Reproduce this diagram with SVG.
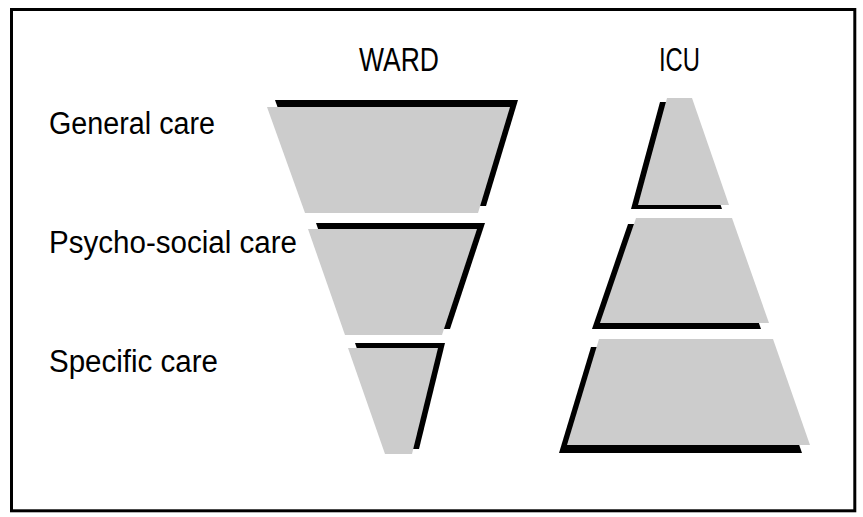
<svg xmlns="http://www.w3.org/2000/svg" width="863" height="517" viewBox="0 0 863 517">
<style>
.lbl{font-family:"Liberation Sans",Arial,sans-serif;font-size:31px;fill:#000}
.ttl{font-family:"Liberation Sans",Arial,sans-serif;font-size:33px;fill:#000}
.sh{fill:#000}
.fc{fill:#cccccc}
</style>
<rect x="0" y="0" width="863" height="517" fill="#fff"/>
<rect x="11.5" y="9.5" width="843.3" height="501.3" fill="none" stroke="#000" stroke-width="3"/>
<text class="ttl" x="359" y="71" textLength="80" lengthAdjust="spacingAndGlyphs">WARD</text>
<text class="ttl" x="659" y="71" textLength="41" lengthAdjust="spacingAndGlyphs">ICU</text>
<text class="lbl" x="49" y="134" textLength="166" lengthAdjust="spacingAndGlyphs">General care</text>
<text class="lbl" x="49" y="253" textLength="248" lengthAdjust="spacingAndGlyphs">Psycho-social care</text>
<text class="lbl" x="49" y="372" textLength="169" lengthAdjust="spacingAndGlyphs">Specific care</text>
<g id="ward-general">
<polygon class="sh" transform="translate(8,-7)" points="267,107 510,107 478,213 305,213"/>
<polygon class="fc" points="267,107 510,107 478,213 305,213"/>
</g>
<g id="ward-psychosocial">
<polygon class="sh" transform="translate(8,-6)" points="308,229 477,229 442,335 345,335"/>
<polygon class="fc" points="308,229 477,229 442,335 345,335"/>
</g>
<g id="ward-specific">
<polygon class="sh" transform="translate(7,-5)" points="348,348 438,348 412,454 385,454"/>
<polygon class="fc" points="348,348 438,348 412,454 385,454"/>
</g>
<g id="icu-general">
<polygon class="sh" transform="translate(-7,4)" points="667,98 692,98 729,205 638,205"/>
<polygon class="fc" points="667,98 692,98 729,205 638,205"/>
</g>
<g id="icu-psychosocial">
<polygon class="sh" transform="translate(-8,6)" points="636,218 732,218 769,323 600,323"/>
<polygon class="fc" points="636,218 732,218 769,323 600,323"/>
</g>
<g id="icu-specific">
<polygon class="sh" transform="translate(-8,8)" points="599,339 773,339 810,445 567,445"/>
<polygon class="fc" points="599,339 773,339 810,445 567,445"/>
</g>
<g id="connectors"/>
</svg>
